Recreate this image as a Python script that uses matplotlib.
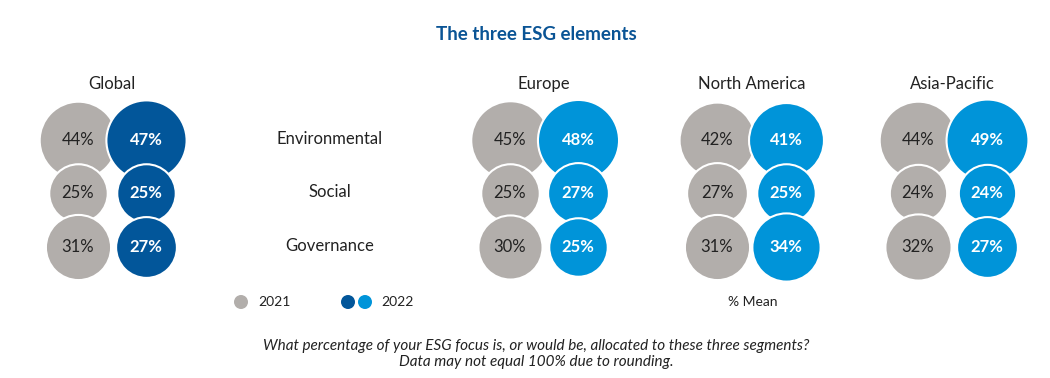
import matplotlib
matplotlib.use("Agg")
import matplotlib.pyplot as plt
import numpy as np

plt.rcParams['font.family'] = ['Lato', 'DejaVu Sans']

regions = ["Global", "Europe", "North America", "Asia-Pacific"]
elements = ["Environmental", "Social", "Governance"]
values_2021 = {
    "Global": [44, 25, 31],
    "Europe": [45, 25, 30],
    "North America": [42, 27, 31],
    "Asia-Pacific": [44, 24, 32],
}
values_2022 = {
    "Global": [47, 25, 27],
    "Europe": [48, 27, 25],
    "North America": [41, 25, 34],
    "Asia-Pacific": [49, 24, 27],
}
years = ["2021", "2022"]

GRAY = "#b2aeab"
DARK = "#02569a"
LIGHT = "#0094d9"
TXT = "#222222"

W, H = 1050, 378
fig = plt.figure(figsize=(W / 100, H / 100), dpi=100)
ax = fig.add_axes([0, 0, 1, 1])
ax.set_xlim(0, W)
ax.set_ylim(H, 0)
ax.axis("off")

col_x = {"Global": (78, 146), "Europe": (510, 578),
         "North America": (717, 786), "Asia-Pacific": (918, 987)}
row_y = [140, 193, 247]
px2pt = 72 / 100
k = 11.7  # diameter px per sqrt(percent)

def size(v):
    d = k * np.sqrt(v) * px2pt
    return d ** 2

for r, region in enumerate(regions):
    gx, bx = col_x[region]
    blue = DARK if region == "Global" else LIGHT
    ax.text((gx + bx) / 2, 84, region, ha="center", va="center", fontsize=12, color=TXT)
    for i in range(len(elements)):
        y = row_y[i]
        v1 = values_2021[region][i]
        v2 = values_2022[region][i]
        zi = 2 + i * 2
        ax.scatter([gx], [y], s=size(v1), c=GRAY, edgecolors="white", linewidths=1.5, zorder=zi)
        ax.scatter([bx], [y], s=size(v2), c=blue, edgecolors="white", linewidths=1.5, zorder=zi + 1)
        ax.text(gx, y, f"{v1}%", ha="center", va="center", fontsize=12, color=TXT, zorder=20)
        ax.text(bx, y, f"{v2}%", ha="center", va="center", fontsize=12, color="white",
                fontweight="bold", zorder=20)

for i, el in enumerate(elements):
    ax.text(330, row_y[i] - 1, el, ha="center", va="center", fontsize=12, color=TXT)

ax.text(536, 34, "The three ESG elements", ha="center", va="center", fontsize=13.5,
        fontweight="bold", color="#0a5495")

# legend
ax.scatter([241], [302], s=(14 * px2pt) ** 2, c=GRAY, edgecolors="none")
ax.text(258, 302, years[0], ha="left", va="center", fontsize=10, color=TXT)
ax.scatter([348], [302], s=(14 * px2pt) ** 2, c=DARK, edgecolors="none")
ax.scatter([365], [302], s=(14 * px2pt) ** 2, c=LIGHT, edgecolors="none")
ax.text(381, 302, years[1], ha="left", va="center", fontsize=10, color=TXT)
ax.text(753, 302, "% Mean", ha="center", va="center", fontsize=10, color=TXT)

ax.text(536, 346, "What percentage of your ESG focus is, or would be, allocated to these three segments?",
        ha="center", va="center", fontsize=11, style="italic", color=TXT)
ax.text(536, 362, "Data may not equal 100% due to rounding.",
        ha="center", va="center", fontsize=11, style="italic", color=TXT)

fig.savefig("out.png", dpi=100, facecolor="white")
